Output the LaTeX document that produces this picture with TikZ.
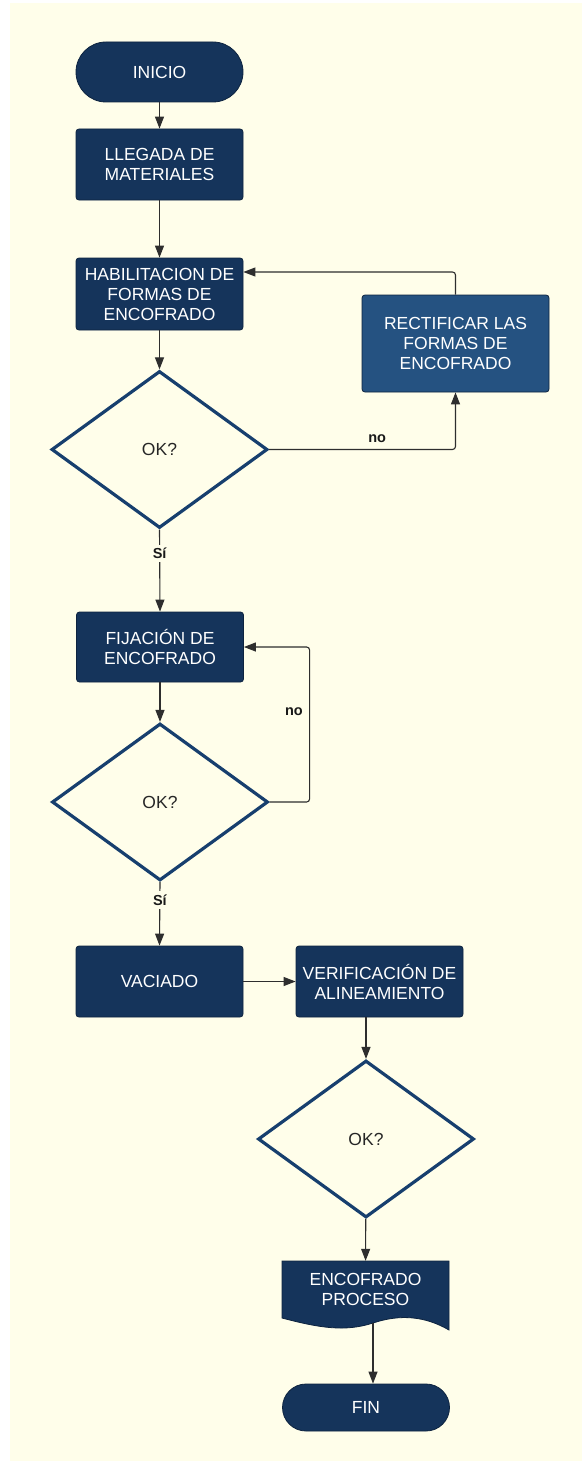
\documentclass[tikz,border=0pt]{standalone}
\usepackage{fontspec}
\setmainfont{Liberation Sans}
\usetikzlibrary{shapes.geometric,arrows.meta,calc}
\definecolor{paper}{HTML}{FFFEEA}
\definecolor{navy}{HTML}{15345B}
\definecolor{navyedge}{HTML}{0D233F}
\definecolor{steel}{HTML}{255281}
\definecolor{rim}{HTML}{173F6E}
\definecolor{wire}{HTML}{2E2E2E}
\begin{document}
\begin{tikzpicture}[x=1pt,y=-1pt,
  every node/.style={font=\fontsize{17.5}{20}\selectfont},
  proc/.style={draw=navyedge, line width=0.8pt, fill=navy, text=white,
    rounded corners=3pt, minimum width=167pt, align=center, inner sep=0pt},
  term/.style={proc, rounded corners=30pt},
  ask/.style={diamond, draw=rim, line width=3.2pt, fill=paper, text=black!85,
    minimum width=216pt, minimum height=157pt, inner sep=0pt, shape aspect=1.37},
  flow/.style={draw=wire, line width=1.1pt, -{Triangle[length=12pt,width=9pt]}},
  tag/.style={font=\fontsize{14.5}{16}\selectfont\bfseries, text=black!90}]

% page background
\fill[white] (0,0) rectangle (582,1461);
\fill[paper] (10,3) rectangle (582,1461);
\useasboundingbox (0,0) rectangle (582,1461);

% steps
\node[term, minimum height=60pt] (ini) at (159.5,72) {INICIO};
\node[proc, minimum height=71pt] (lle) at (159.5,164.5) {LLEGADA DE\\MATERIALES};
\node[proc, minimum height=72pt] (hab) at (159.5,294) {HABILITACION DE\\FORMAS DE\\ENCOFRADO};
\node[proc, fill=steel, minimum width=187pt, minimum height=97pt] (rec) at (455.5,343.5)
  {RECTIFICAR LAS\\FORMAS DE\\ENCOFRADO};
\node[ask] (ok1) at (159.5,449.5) {OK?};
\node[proc, minimum height=70pt] (fij) at (160,647) {FIJACIÓN DE\\ENCOFRADO};
\node[ask] (ok2) at (160,802) {OK?};
\node[proc, minimum height=71pt] (vac) at (159.5,981.5) {VACIADO};
\node[proc, minimum height=71pt] (ver) at (379.5,981.5) {VERIFICACIÓN DE\\ALINEAMIENTO};
\node[ask] (ok3) at (366,1139) {OK?};

% document shape with wavy lower edge
\filldraw[fill=navy, draw=navyedge, line width=0.8pt]
  (282,1261) -- (449,1261) -- (449,1330)
  .. controls (425,1316) and (400,1314) .. (373,1323)
  .. controls (345,1332) and (320,1328) .. (282,1318) -- cycle;
\node[text=white, minimum width=167pt, minimum height=57pt, align=center, inner sep=0pt]
  (doc) at (365.5,1289.5) {ENCOFRADO\\PROCESO};
\coordinate (docout) at (373,1323);

\node[term, minimum height=47pt, rounded corners=23.5pt] (fin) at (366,1407.5) {FIN};

% connectors
\draw[flow] (ini) -- (lle);
\draw[flow] (lle) -- (hab);
\draw[flow] (hab) -- (ok1);
\draw[flow, rounded corners=3pt] (ok1.east) -| node[pos=0.29, above=3pt, tag]{no} (rec.south);
\draw[flow, rounded corners=3pt] (rec.north) |- ([yshift=22pt]hab.east);
\draw[flow] (ok1.south) -- node[pos=0.29, fill=paper, tag]{Sí} (fij.north);
\draw[flow] (fij) -- (ok2);
\draw[flow, rounded corners=3pt] (ok2.east) -- ++(40,0) |- node[pos=0.29, left=3pt, tag]{no} (fij.east);
\draw[flow] (ok2.south) -- node[pos=0.28, fill=paper, tag]{Sí} (vac.north);
\draw[flow] (vac) -- (ver);
\draw[flow] (ver.south -| ok3.north) -- (ok3.north);
\draw[flow] (ok3) -- (doc);
\draw[flow] (docout) -- (docout |- fin.north);
\end{tikzpicture}
\end{document}
